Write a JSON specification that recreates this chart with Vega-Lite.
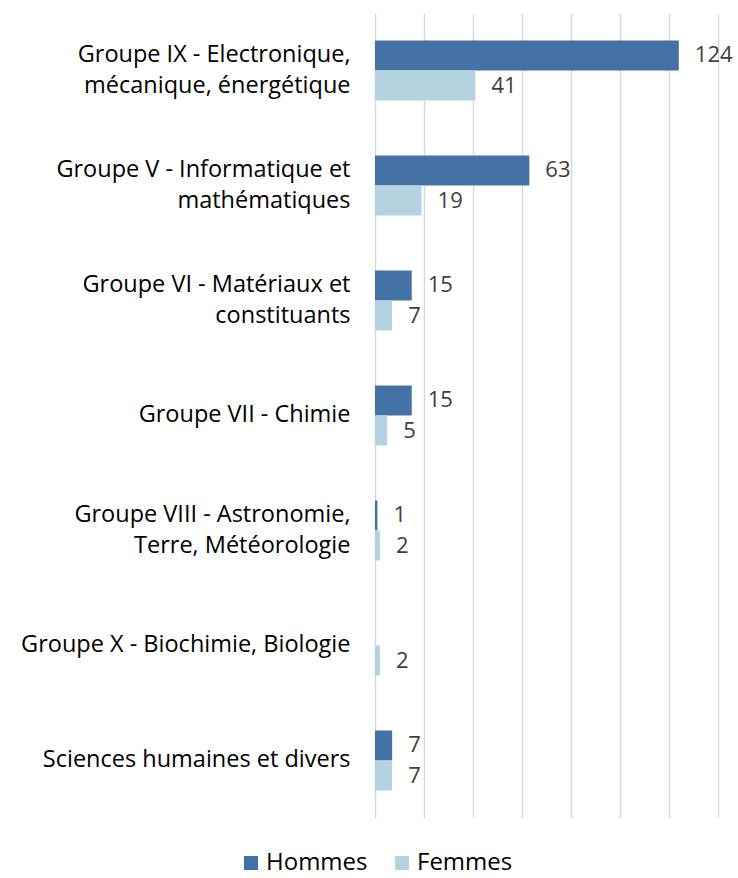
{
  "$schema": "https://vega.github.io/schema/vega-lite/v6.json",
  "width": 343,
  "height": 805,
  "padding": {"left": 5, "top": 13, "right": 5, "bottom": 5},
  "autosize": {"type": "pad"},
  "config": {"view": {"stroke": null}, "font": "Open Sans"},
  "data": {
    "values": [
      {"groupe": "Groupe IX - Electronique,|mécanique, énergétique", "sexe": "Hommes", "n": 124},
      {"groupe": "Groupe IX - Electronique,|mécanique, énergétique", "sexe": "Femmes", "n": 41},
      {"groupe": "Groupe V - Informatique et|mathématiques", "sexe": "Hommes", "n": 63},
      {"groupe": "Groupe V - Informatique et|mathématiques", "sexe": "Femmes", "n": 19},
      {"groupe": "Groupe VI - Matériaux et|constituants", "sexe": "Hommes", "n": 15},
      {"groupe": "Groupe VI - Matériaux et|constituants", "sexe": "Femmes", "n": 7},
      {"groupe": "Groupe VII - Chimie", "sexe": "Hommes", "n": 15},
      {"groupe": "Groupe VII - Chimie", "sexe": "Femmes", "n": 5},
      {"groupe": "Groupe VIII - Astronomie,|Terre, Météorologie", "sexe": "Hommes", "n": 1},
      {"groupe": "Groupe VIII - Astronomie,|Terre, Météorologie", "sexe": "Femmes", "n": 2},
      {"groupe": "Groupe X - Biochimie, Biologie", "sexe": "Hommes", "n": 0},
      {"groupe": "Groupe X - Biochimie, Biologie", "sexe": "Femmes", "n": 2},
      {"groupe": "Sciences humaines et divers", "sexe": "Hommes", "n": 7},
      {"groupe": "Sciences humaines et divers", "sexe": "Femmes", "n": 7}
    ]
  },
  "encoding": {
    "y": {
      "field": "groupe",
      "type": "nominal",
      "sort": null,
      "scale": {"paddingInner": 0.478, "paddingOuter": 0.239},
      "axis": {
        "title": null,
        "domain": false,
        "ticks": false,
        "labelExpr": "split(datum.label, '|')",
        "labelPadding": 25,
        "labelFont": "Open Sans",
        "labelFontSize": 23.5,
        "labelColor": "#000000",
        "labelLineHeight": 31,
        "labelOffset": {"condition": {"test": "indexof(datum.value, '|') >= 0", "value": -15.5}, "value": -1},
        "labelLimit": 400,
        "minExtent": 370,
        "maxExtent": 370
      }
    },
    "yOffset": {
      "field": "sexe",
      "type": "nominal",
      "scale": {"domain": ["Hommes", "Femmes"]}
    },
    "x": {
      "field": "n",
      "type": "quantitative",
      "scale": {"domain": [0, 140], "nice": false},
      "axis": {
        "title": null,
        "labels": false,
        "ticks": false,
        "domain": false,
        "grid": true,
        "gridColor": "#d9d9d9",
        "gridWidth": 1.5,
        "values": [0, 20, 40, 60, 80, 100, 120, 140]
      }
    }
  },
  "layer": [
    {
      "mark": {"type": "bar"},
      "encoding": {
        "color": {
          "field": "sexe",
          "type": "nominal",
          "scale": {"domain": ["Hommes", "Femmes"], "range": ["#4472a5", "#b5d3de"]},
          "legend": {
            "title": null,
            "orient": "none",
            "direction": "horizontal",
            "legendX": -136,
            "legendY": 838,
            "symbolType": "square",
            "symbolSize": 196,
            "symbolStrokeWidth": 0,
            "labelFont": "Open Sans",
            "labelFontSize": 24,
            "labelColor": "#000000",
            "columnPadding": 22,
            "labelOffset": 3
          }
        }
      }
    },
    {
      "transform": [{"filter": "datum.n > 0"}],
      "mark": {"type": "text", "align": "left", "baseline": "middle", "dx": 16, "fontSize": 22, "color": "#404040", "font": "Open Sans"},
      "encoding": {"text": {"field": "n", "type": "quantitative"}}
    }
  ]
}
